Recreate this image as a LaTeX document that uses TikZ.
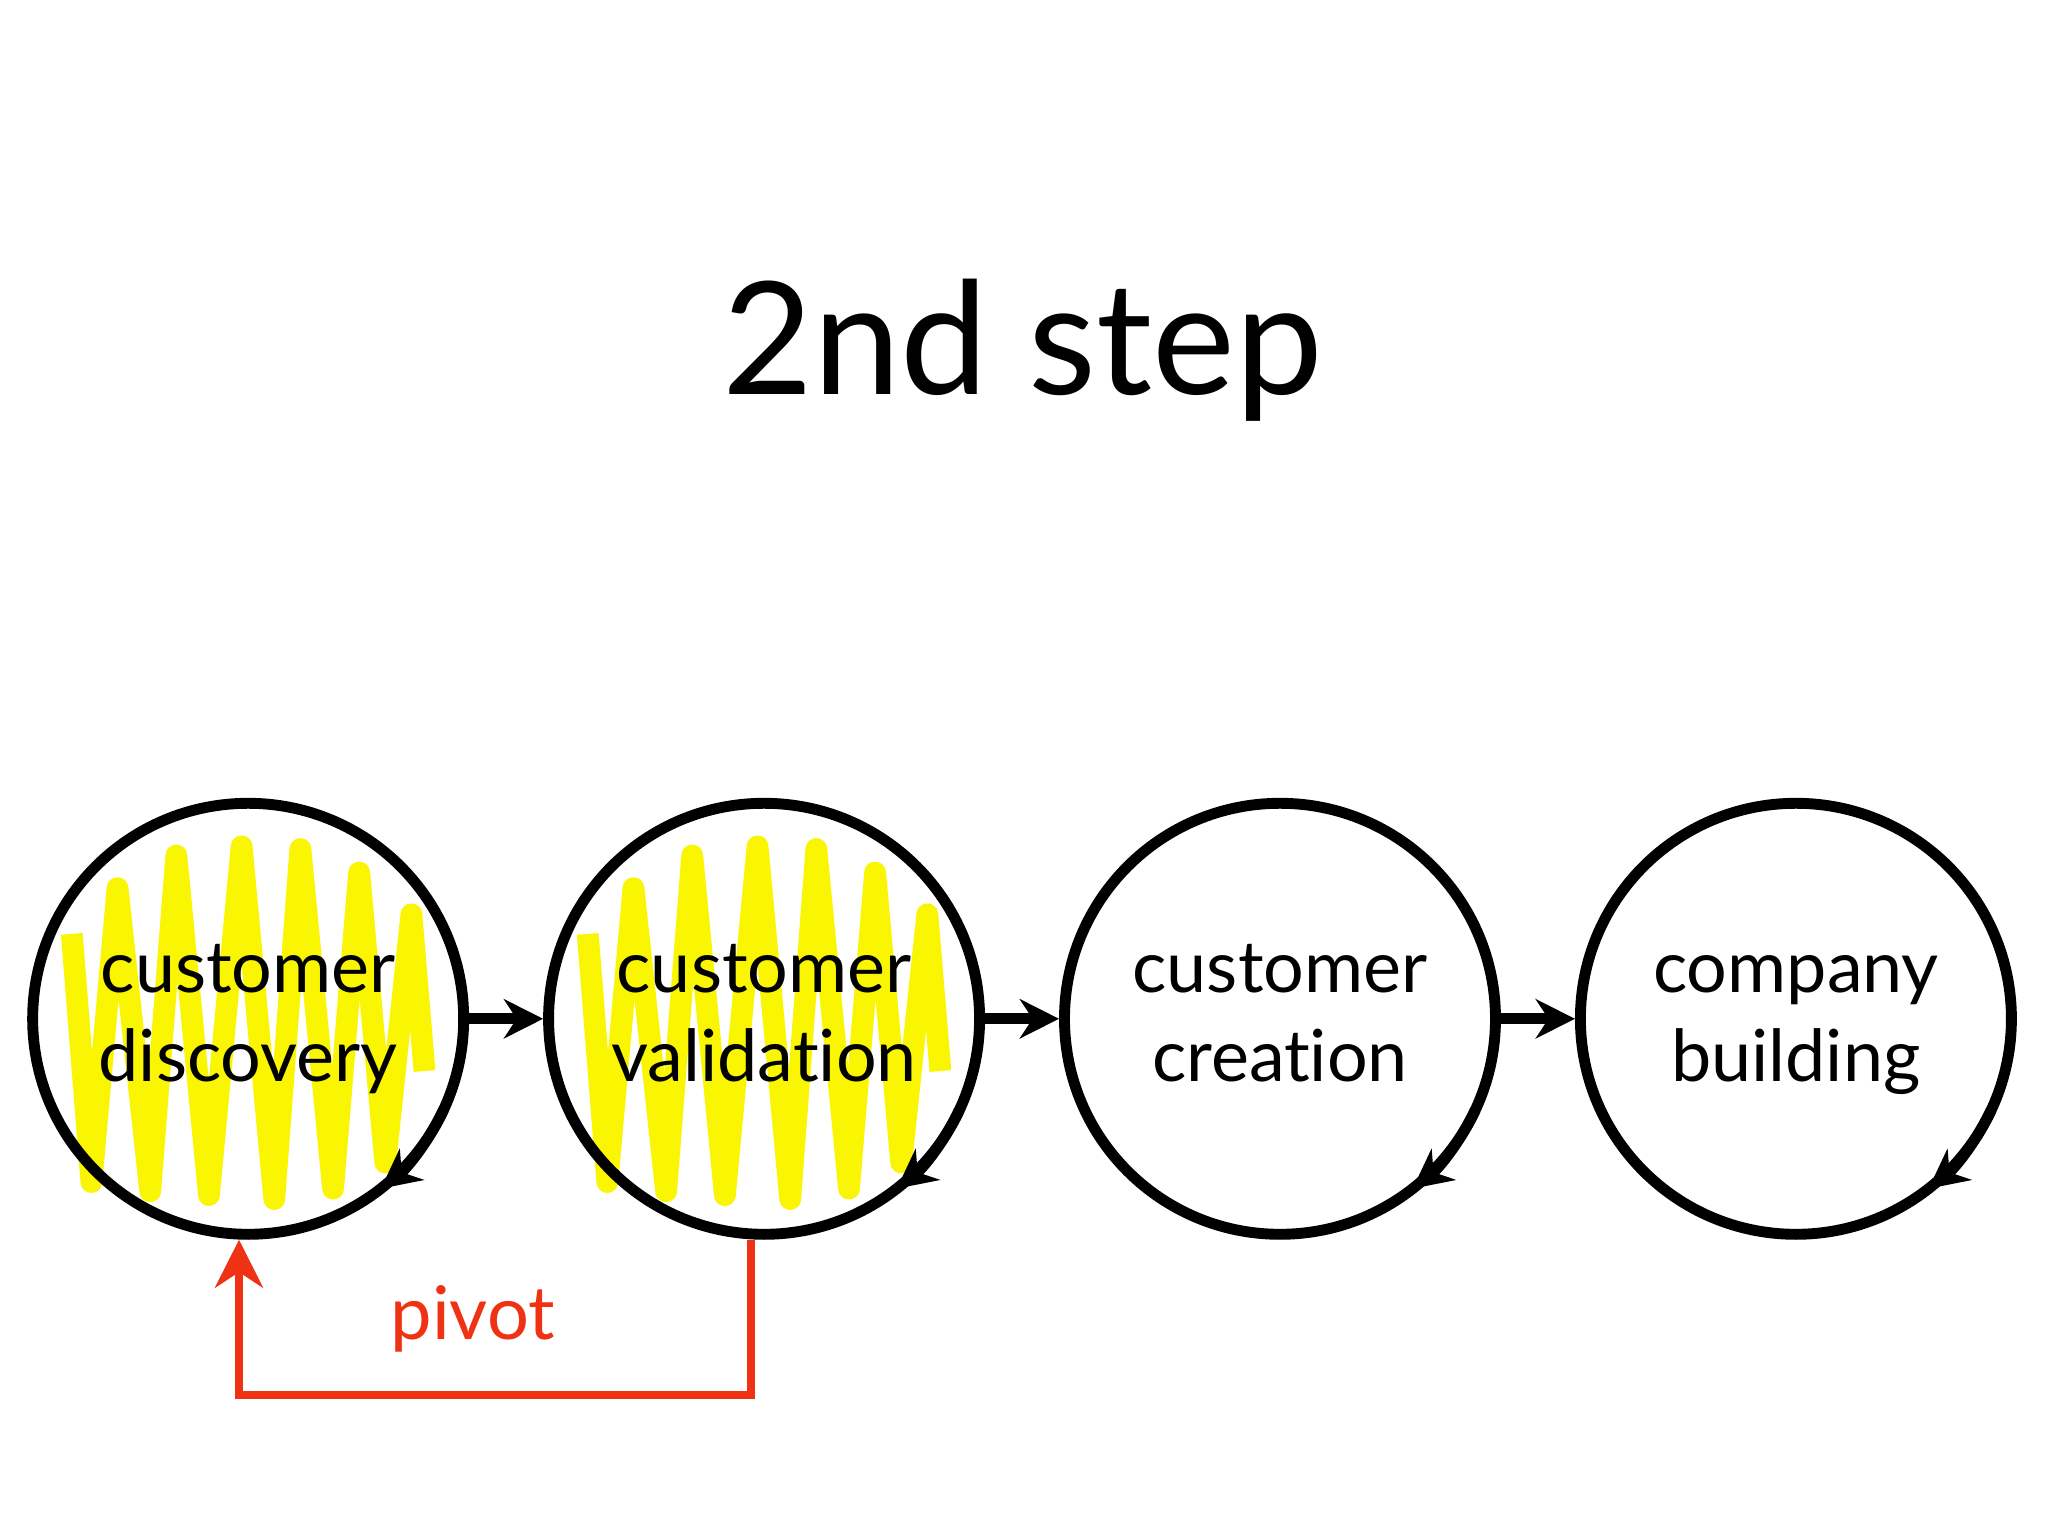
\documentclass[tikz,border=0pt]{standalone}
\usepackage{fontspec}
\setmainfont{Lato}[Ligatures={NoCommon,NoRare}]
\usetikzlibrary{arrows.meta}
\definecolor{pivotColor}{RGB}{240,50,20}
\definecolor{scribbleColor}{RGB}{250,245,0}
\tikzset{
  phase/.style={circle,draw=black,line width=2.5pt,minimum size=99pt,inner sep=0pt,
    align=center,font=\fontsize{16.5}{20.5}\selectfont},
  phasearrow/.style={-{Stealth[length=9pt,width=9pt]},line width=2.5pt},
  cyclearrow/.style={-{Stealth[length=9pt,width=9pt]},line width=2.5pt},
  pivotline/.style={draw=pivotColor,line width=1.8pt},
  scribble/.style={draw=scribbleColor,line width=5pt,line join=round}
}
\begin{document}
\begin{tikzpicture}[x=0.3pt,y=-0.3pt]
\path[use as bounding box,fill=white] (0,0) rectangle (1568,1176);

\node[font=\fontsize{36}{44}\selectfont] (title) at (783,268) {2nd step};

% yellow scribbles
\foreach \cx in {190,585} {
  \draw[scribble] (\cx-135,715) -- (\cx-120,905) -- (\cx-100,680) -- (\cx-75,912)
    -- (\cx-55,655) -- (\cx-30,915) -- (\cx-5,648) -- (\cx+20,918) -- (\cx+40,650)
    -- (\cx+65,910) -- (\cx+85,668) -- (\cx+105,890) -- (\cx+125,700) -- (\cx+135,820);
}

\node[phase] (discovery) at (190,780) {\strut customer\\\strut discovery};
\node[phase] (validation) at (585,780) {\strut customer\\\strut validation};
\node[phase] (creation) at (980,780) {\strut customer\\\strut creation};
\node[phase] (building) at (1375,780) {\strut company\\\strut building};

\draw[phasearrow] (discovery) -- (validation);
\draw[phasearrow] (validation) -- (creation);
\draw[phasearrow] (creation) -- (building);

% small cycle arrows
\foreach \n in {discovery,validation,creation,building} {
  \draw[cyclearrow] (\n.center) ++(25:165) arc (25:52:165);
}

% pivot
\coordinate (pivotcorner2) at (183,1068);
\coordinate (pivotcorner1) at ([xshift=-3pt]validation.south |- pivotcorner2);
\draw[pivotline,-{Stealth[length=11pt,width=11pt]}] (pivotcorner1 |- validation.south)
  -- (pivotcorner1) -- (pivotcorner2) -- (discovery.south -| pivotcorner2);
\node[text=pivotColor,font=\fontsize{17}{20}\selectfont] (pivotlabel) at (362,1010) {pivot};
\end{tikzpicture}
\end{document}
